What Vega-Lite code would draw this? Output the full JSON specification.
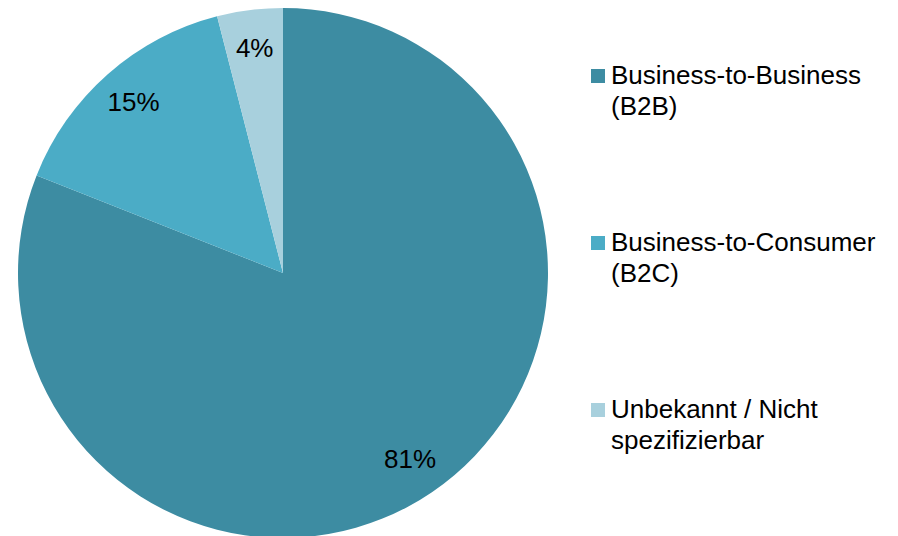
{
  "$schema": "https://vega.github.io/schema/vega-lite/v6.json",
  "width": 566,
  "height": 546,
  "autosize": {"type": "pad"},
  "padding": 0,
  "background": "white",
  "view": {"stroke": null},
  "data": {
    "values": [
      {"kategorie": "Business-to-Business|(B2B)", "anteil": 81, "label": "81%", "idx": 1},
      {"kategorie": "Business-to-Consumer|(B2C)", "anteil": 15, "label": "15%", "idx": 2},
      {"kategorie": "Unbekannt / Nicht|spezifizierbar", "anteil": 4, "label": "4%", "idx": 3}
    ]
  },
  "encoding": {
    "theta": {"field": "anteil", "type": "quantitative", "stack": true},
    "order": {"field": "idx", "type": "quantitative"}
  },
  "layer": [
    {
      "mark": {"type": "arc", "outerRadius": 265},
      "encoding": {
        "color": {
          "field": "kategorie",
          "type": "nominal",
          "sort": ["Business-to-Business|(B2B)", "Business-to-Consumer|(B2C)", "Unbekannt / Nicht|spezifizierbar"],
          "scale": {
            "domain": ["Business-to-Business|(B2B)", "Business-to-Consumer|(B2C)", "Unbekannt / Nicht|spezifizierbar"],
            "range": ["#3D8CA2", "#4BACC6", "#A8D0DD"]
          },
          "legend": {
            "orient": "none",
            "legendX": 585,
            "legendY": 63,
            "title": null,
            "symbolType": "square",
            "symbolSize": 196,
            "symbolStrokeWidth": 0,
            "symbolOpacity": 1,
            "labelFont": "Liberation Sans",
            "labelFontSize": 26,
            "labelColor": "#000000",
            "labelLimit": 0,
            "labelOffset": 0,
            "rowPadding": 110,
            "labelExpr": "split(datum.label, '|')",
            "encode": {
              "labels": {"update": {"lineHeight": {"value": 31}}}
            }
          }
        }
      }
    },
    {
      "mark": {"type": "text", "radius": 226, "font": "Liberation Sans", "fontSize": 26, "color": "#000000"},
      "encoding": {"text": {"field": "label", "type": "nominal"}}
    }
  ]
}
